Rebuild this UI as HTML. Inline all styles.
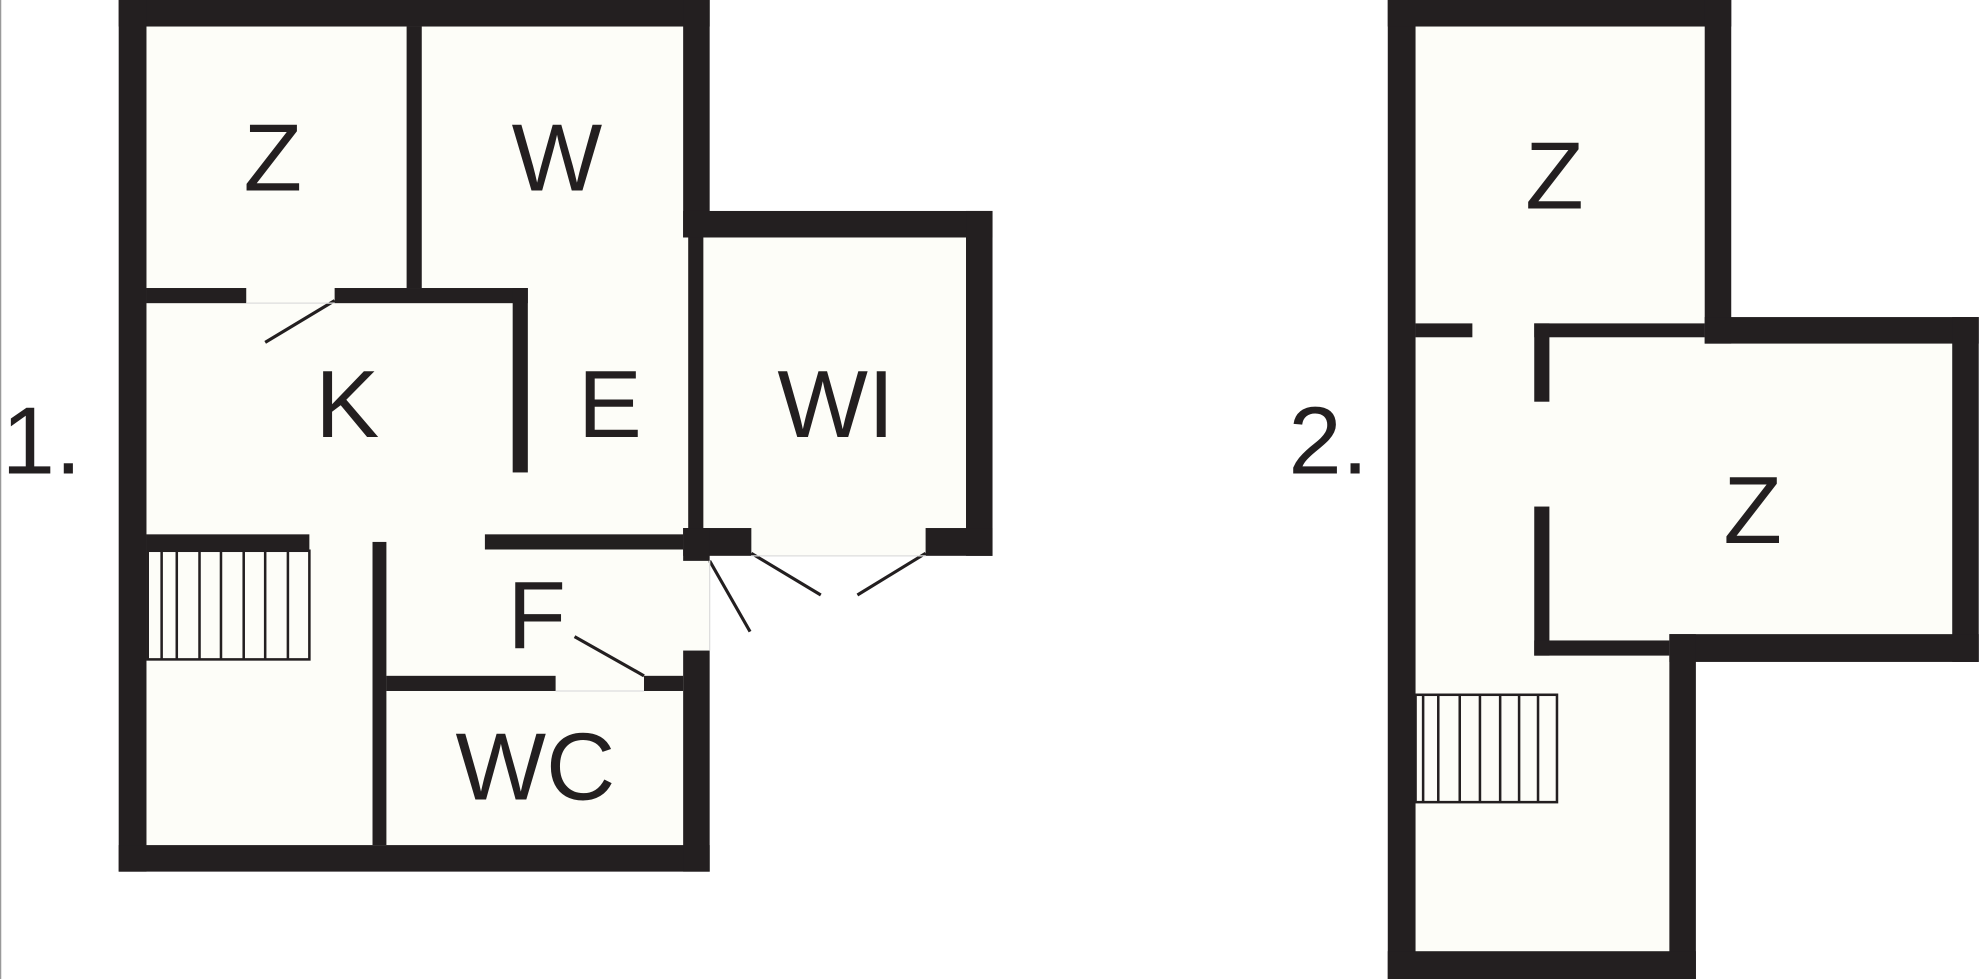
<!DOCTYPE html>
<html><head><style>html,body{margin:0;padding:0;background:#fff;}svg{display:block}</style></head>
<body>
<svg width="1980" height="979" viewBox="0 0 1568 775" preserveAspectRatio="none" xmlns="http://www.w3.org/2000/svg">
<rect x="0" y="0" width="1568" height="775" fill="#fff"/>
<line x1="0.5" y1="0" x2="0.5" y2="775" stroke="#999" stroke-width="1"/>
<g fill="#fdfdf8">
<rect x="116" y="21" width="425" height="648"/>
<rect x="541" y="188" width="224" height="230"/>
<rect x="541" y="418" width="192" height="22"/>
<rect x="541" y="440" width="21" height="75"/>
<polygon points="1121,21 1350,21 1350,272 1546,272 1546,502 1322,502 1322,753 1121,753"/>
</g>
<g fill="#231f20">
<!-- plan 1 outer -->
<rect x="94" y="0" width="468" height="21"/>
<rect x="94" y="0" width="22" height="690"/>
<rect x="94" y="669" width="468" height="21"/>
<rect x="541" y="0" width="21" height="188"/>
<rect x="541" y="167" width="245" height="21"/>
<rect x="765" y="167" width="21" height="273"/>
<rect x="733" y="418" width="53" height="22"/>
<rect x="541" y="418" width="54" height="22"/>
<rect x="541" y="418" width="21" height="26"/>
<rect x="545" y="188" width="12" height="230"/>
<rect x="541" y="515" width="21" height="175"/>
<!-- plan 1 inner -->
<rect x="322" y="21" width="12" height="207"/>
<rect x="116" y="228" width="79" height="12"/>
<rect x="265" y="228" width="153" height="12"/>
<rect x="406" y="228" width="12" height="146"/>
<rect x="116" y="423" width="129" height="12"/>
<rect x="384" y="423" width="157" height="12"/>
<rect x="295" y="429" width="11" height="240"/>
<rect x="306" y="535" width="134" height="12"/>
<rect x="510" y="535" width="31" height="12"/>
<!-- plan 2 -->
<rect x="1099" y="0" width="22" height="775"/>
<rect x="1099" y="0" width="272" height="21"/>
<rect x="1350" y="0" width="21" height="272"/>
<rect x="1350" y="251" width="217" height="21"/>
<rect x="1546" y="251" width="21" height="273"/>
<rect x="1322" y="502" width="245" height="22"/>
<rect x="1322" y="502" width="21" height="273"/>
<rect x="1099" y="753" width="244" height="22"/>
<rect x="1121" y="256" width="45" height="11"/>
<rect x="1215" y="256" width="135" height="11"/>
<rect x="1215" y="256" width="12" height="62"/>
<rect x="1215" y="401" width="12" height="118"/>
<rect x="1215" y="507" width="107" height="12"/>
</g>
<g stroke="#231f20" stroke-width="2.5" fill="none">
<rect x="117" y="436" width="128" height="86" stroke-width="2"/>
<path d="M128 436V522M140 436V522M158 436V522M175 436V522M193 436V522M210 436V522M228 436V522" stroke-width="2"/>
<rect x="1121" y="550" width="112" height="85" stroke-width="2"/>
<path d="M1127 550V635M1139 550V635M1156 550V635M1172 550V635M1188 550V635M1203 550V635M1218 550V635" stroke-width="2"/>
<line x1="210" y1="271" x2="265" y2="238"/>
<line x1="455" y1="504" x2="510" y2="535"/>
<line x1="562" y1="444" x2="594" y2="500"/>
<line x1="595" y1="438" x2="650" y2="471"/>
<line x1="733" y1="438" x2="679" y2="471"/>
</g>
<g stroke="#ddd" stroke-width="1" fill="none">
<line x1="195" y1="240" x2="265" y2="240"/>
<line x1="440" y1="547" x2="510" y2="547"/>
<line x1="595" y1="440" x2="733" y2="440"/>
<line x1="562" y1="444" x2="562" y2="515"/>
</g>
<g font-family="Liberation Sans, sans-serif" font-size="76" fill="#231f20" text-anchor="middle">
<text x="216" y="151">Z</text>
<text x="441" y="151">W</text>
<text x="275" y="346">K</text>
<text x="483" y="346">E</text>
<text x="662" y="346">WI</text>
<text x="425" y="513">F</text>
<text x="424" y="633">WC</text>
<text x="33" y="375">1.</text>
<text x="1231" y="165">Z</text>
<text x="1388" y="430">Z</text>
<text x="1052" y="375">2.</text>
</g>
</svg>
</body></html>
